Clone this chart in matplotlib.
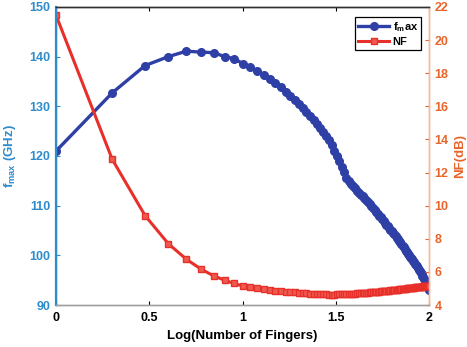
import numpy as np
import matplotlib
matplotlib.use("Agg")
import matplotlib.pyplot as plt

plt.rcParams["font.family"] = ["Liberation Sans", "DejaVu Sans"]
plt.rcParams["font.weight"] = "bold"
plt.rcParams["mathtext.fontset"] = "custom"
plt.rcParams["mathtext.rm"] = "Liberation Sans:bold"
plt.rcParams["mathtext.it"] = "Liberation Sans:bold"
plt.rcParams["mathtext.bf"] = "Liberation Sans:bold"

# number of fingers 1..100, plotted on a log10 axis
fingers = np.arange(1, 101)

fmax = [
    121.0, 132.7, 138.2, 140.0, 141.1, 140.9, 140.8, 140.0, 139.6, 138.6,
    138.0, 137.1, 136.4, 135.5, 134.7, 133.8, 132.9, 132.1, 131.3, 130.5,
    129.7, 128.9, 128.1, 127.3, 126.5, 125.7, 124.9, 124.1, 123.2, 122.2,
    121.1, 120.0, 118.9, 117.8, 116.7, 115.6, 114.9, 114.3, 113.9, 113.5,
    113.0, 112.6, 112.2, 111.9, 111.5, 111.1, 110.7, 110.3, 109.9, 109.5,
    109.1, 108.8, 108.4, 108.0, 107.7, 107.3, 107.0, 106.6, 106.2, 105.9,
    105.5, 105.2, 104.8, 104.5, 104.2, 103.8, 103.5, 103.2, 102.9, 102.6,
    102.2, 101.9, 101.6, 101.3, 100.9, 100.6, 100.3, 100.0, 99.7, 99.4,
    99.2, 98.9, 98.6, 98.3, 98.0, 97.8, 97.4, 97.1, 96.8, 96.5,
    96.2, 95.9, 95.6, 95.3, 95.0, 94.7, 94.3, 93.9, 93.5, 93.1,
]

nf = [
    21.5, 12.8, 9.4, 7.7, 6.76, 6.16, 5.76, 5.5, 5.3, 5.15,
    5.07, 5.01, 4.96, 4.92, 4.87, 4.83, 4.80, 4.78, 4.76, 4.74,
    4.72, 4.70, 4.68, 4.67, 4.65, 4.645, 4.64, 4.635, 4.63, 4.63,
    4.63, 4.635, 4.64, 4.645, 4.655, 4.66, 4.665, 4.67, 4.68, 4.69,
    4.70, 4.71, 4.72, 4.73, 4.74, 4.75, 4.755, 4.76, 4.77, 4.78,
    4.79, 4.795, 4.80, 4.81, 4.82, 4.825, 4.83, 4.84, 4.85, 4.86,
    4.87, 4.88, 4.89, 4.90, 4.91, 4.92, 4.925, 4.935, 4.945, 4.95,
    4.96, 4.97, 4.98, 4.985, 4.995, 5.00, 5.01, 5.02, 5.02, 5.03,
    5.04, 5.04, 5.05, 5.06, 5.065, 5.07, 5.08, 5.085, 5.09, 5.10,
    5.11, 5.115, 5.12, 5.13, 5.135, 5.14, 5.15, 5.16, 5.165, 5.17,
]

x = np.log10(fingers)

blue = "#2e3fa6"
red = "#e8302a"
left_col = "#2f8ccc"
right_col = "#e8642a"

fig = plt.figure(figsize=(4.67, 3.47), dpi=100)
ax1 = fig.add_axes([0.12, 0.121, 0.799, 0.859])
ax2 = ax1.twinx()

l1, = ax1.plot(x, fmax, color=blue, lw=2.4, marker="o", ms=5.5,
               mfc=blue, mec=blue, label="f$_{m}$ax")
l2, = ax2.plot(x, nf, color=red, lw=2.2, marker="s", ms=4.5,
               mfc="#ef5a50", mec=red, label="NF")

ax1.set_xlim(0, 2)
ax1.set_ylim(90, 150)
ax2.set_ylim(4, 22)
ax1.set_xticks([0, 0.5, 1, 1.5, 2])
ax1.set_xticklabels(["0", "0.5", "1", "1.5", "2"])
ax1.set_yticks(range(90, 151, 10))
ax2.set_yticks(range(4, 23, 2))

ax1.tick_params(axis="x", direction="in", top=True, length=3,
                labelsize=9, colors="black", pad=5)
ax1.tick_params(axis="y", direction="in", length=3, labelsize=9,
                colors=left_col, pad=4)
ax2.tick_params(axis="y", direction="in", length=3, labelsize=9,
                colors=right_col, pad=4)

for a in (ax1, ax2):
    a.spines["bottom"].set_color("#a0a0a0")
    a.spines["top"].set_color("#303030")
    a.spines["left"].set_color(left_col)
    a.spines["right"].set_color("#f4b89a")
    for s in a.spines.values():
        s.set_linewidth(1.0)
ax1.spines["left"].set_linewidth(1.6)

ax1.set_xlabel("Log(Number of Fingers)", fontsize=9.5, fontweight="bold",
               labelpad=4)
ax1.set_ylabel("f$_{max}$ (GHz)", fontsize=9.5, fontweight="bold",
               color=left_col, labelpad=8)
ax2.set_ylabel("NF(dB)", fontsize=9.5, fontweight="bold", color=right_col,
               labelpad=4)

leg = ax2.legend(handles=[l1, l2], loc="upper right",
                 bbox_to_anchor=(0.985, 0.975), fontsize=8,
                 fancybox=False, framealpha=1, edgecolor="black",
                 handlelength=2.8, handletextpad=0.3, borderpad=0.3,
                 labelspacing=0.3, borderaxespad=0.2)
leg.get_frame().set_linewidth(0.9)

fig.savefig("out.png", dpi=100)
